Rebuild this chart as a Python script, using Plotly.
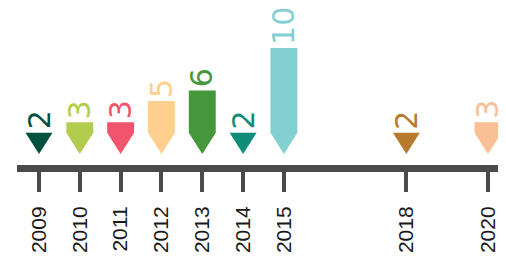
import plotly.graph_objects as go

years = [2009, 2010, 2011, 2012, 2013, 2014, 2015, 2018, 2020]
values = [2, 3, 3, 5, 6, 2, 10, 2, 3]
colors = ["#02513f", "#b2cc4e", "#f2546e", "#fecf8e", "#44973b",
          "#0f8d79", "#83d0d2", "#b87a2d", "#f9c095"]
year_labels = [str(y) for y in years]

HALF = 0.33   # half bar width in years
TIP = 2.0     # height of pointed bottom in value units
X0, X1 = 2008.461, 2020.441
Y0, Y1 = -1.038, 13.774
AXIS_Y = -1.368  # centre of the thick axis line, in value units

fig = go.Figure()
# rounded left end cap of the timeline
fig.add_trace(go.Scatter(x=[X0], y=[AXIS_Y], mode="markers", cliponaxis=False,
                         marker=dict(size=7, color="#4a4a4a", line=dict(width=0)),
                         hoverinfo="skip", showlegend=False))
for yr, v, c in zip(years, values, colors):
    xs = [yr - HALF, yr + HALF, yr + HALF, yr, yr - HALF, yr - HALF]
    ys = [v, v, TIP, 0, TIP, v]
    fig.add_trace(go.Scatter(x=xs, y=ys, mode="lines", fill="toself",
                             fillcolor=c, line=dict(width=0, color=c),
                             hoverinfo="skip", showlegend=False))
    fig.add_annotation(x=yr, y=v, text=str(v), showarrow=False,
                       textangle=-90, yanchor="bottom", xanchor="center",
                       yshift=1,
                       font=dict(family="DejaVu Sans", size=30, color=c))

fig.update_xaxes(range=[X0, X1], showgrid=False, zeroline=False,
                 automargin=False,
                 showline=True, linewidth=7, linecolor="#4a4a4a",
                 ticks="outside", ticklen=20, tickwidth=4, tickcolor="#4a4a4a",
                 tickvals=years, ticktext=year_labels, tickangle=-90,
                 ticklabelstandoff=6,
                 tickfont=dict(family="Liberation Sans", size=21, color="#1a1a1a"))
fig.update_yaxes(range=[Y0, Y1], visible=False, showgrid=False,
                 zeroline=False, automargin=False)
fig.update_layout(width=498, height=249,
                  margin=dict(l=9, r=0, t=0, b=92, autoexpand=False),
                  plot_bgcolor="white", paper_bgcolor="white",
                  showlegend=False)
fig.write_html("out.html")
